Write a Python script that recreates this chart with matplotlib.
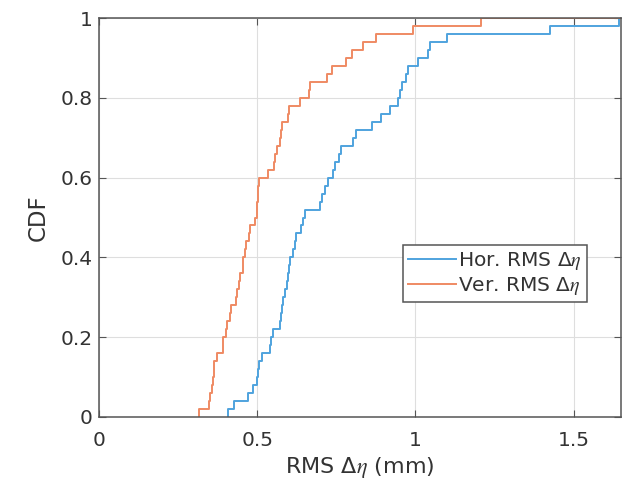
import numpy as np
import matplotlib
matplotlib.use("Agg")
import matplotlib.pyplot as plt

# sorted samples (50 each)
hor = [0.408, 0.427, 0.472, 0.487, 0.500, 0.503, 0.506, 0.514, 0.542, 0.545,
       0.550, 0.572, 0.575, 0.579, 0.583, 0.588, 0.593, 0.597, 0.600, 0.603,
       0.612, 0.618, 0.624, 0.640, 0.645, 0.650, 0.698, 0.706, 0.715, 0.724,
       0.740, 0.747, 0.758, 0.764, 0.803, 0.812, 0.862, 0.890, 0.919, 0.945,
       0.950, 0.957, 0.970, 0.976, 1.008, 1.040, 1.045, 1.101, 1.424, 1.645]
ver = [0.316, 0.348, 0.350, 0.358, 0.360, 0.362, 0.364, 0.372, 0.391, 0.393,
       0.403, 0.405, 0.414, 0.416, 0.433, 0.435, 0.443, 0.445, 0.454, 0.456,
       0.462, 0.464, 0.475, 0.477, 0.493, 0.498, 0.500, 0.502, 0.503, 0.505,
       0.535, 0.553, 0.556, 0.563, 0.572, 0.575, 0.578, 0.596, 0.600, 0.636,
       0.664, 0.667, 0.722, 0.738, 0.781, 0.801, 0.833, 0.874, 0.993, 1.208]

labels = [r"Hor. RMS $\Delta\eta$", r"Ver. RMS $\Delta\eta$"]
colors = ["#4fa3de", "#ef8a63"]
xticks = [0, 0.5, 1, 1.5]
yticks = [0, 0.2, 0.4, 0.6, 0.8, 1]

plt.rcParams["font.family"] = ["DejaVu Sans"]
plt.rcParams["mathtext.fontset"] = "custom"
plt.rcParams["mathtext.rm"] = "DejaVu Sans"
plt.rcParams["mathtext.it"] = "STIXGeneral:italic"

def ecdf_xy(samples):
    x = np.sort(np.asarray(samples))
    n = len(x)
    y = np.arange(1, n + 1) / n
    xs = np.concatenate([[x[0]], x, [3.0]])
    ys = np.concatenate([[0.0], y, [1.0]])
    return xs, ys

fig = plt.figure(figsize=(6.24, 4.87), dpi=100)
ax = fig.add_axes([99 / 624, 1 - 417 / 487, (621 - 99) / 624, (417 - 18) / 487])

for data, lab, c in zip([hor, ver], labels, colors):
    xs, ys = ecdf_xy(data)
    ax.step(xs, ys, where="post", color=c, lw=1.4, label=lab)

ax.set_xlim(0, 1.65)
ax.set_ylim(0, 1)
ax.set_xticks(xticks)
ax.set_xticklabels([f"{t:g}" for t in xticks])
ax.set_yticks(yticks)
ax.set_yticklabels([f"{t:g}" for t in yticks])
ax.grid(True, color="#dedede", lw=0.8)
ax.set_axisbelow(True)

dark = "#333333"
for s in ax.spines.values():
    s.set_color("#555555")
    s.set_linewidth(1.1)
ax.tick_params(direction="in", length=5, width=0.8, color="#555555",
               top=True, right=True, labelsize=14.5, labelcolor=dark)
ax.tick_params(axis="x", pad=10)
ax.tick_params(axis="y", pad=4.5)

ax.set_xlabel(r"RMS $\Delta\eta$ (mm)", fontsize=16, color=dark, labelpad=4)
ax.set_ylabel("CDF", fontsize=16.5, color=dark, labelpad=7.5)

leg = ax.legend(loc="upper left", bbox_to_anchor=((403 - 99) / 522, (417 - 245) / 399),
                borderaxespad=0, fontsize=14.5, handlelength=2.4, handletextpad=0.1,
                fancybox=False, framealpha=1, edgecolor="#555555",
                borderpad=0.25, labelspacing=0.15)
leg.get_frame().set_linewidth(1.1)
for t in leg.get_texts():
    t.set_color(dark)

fig.savefig("out.png", dpi=100)
